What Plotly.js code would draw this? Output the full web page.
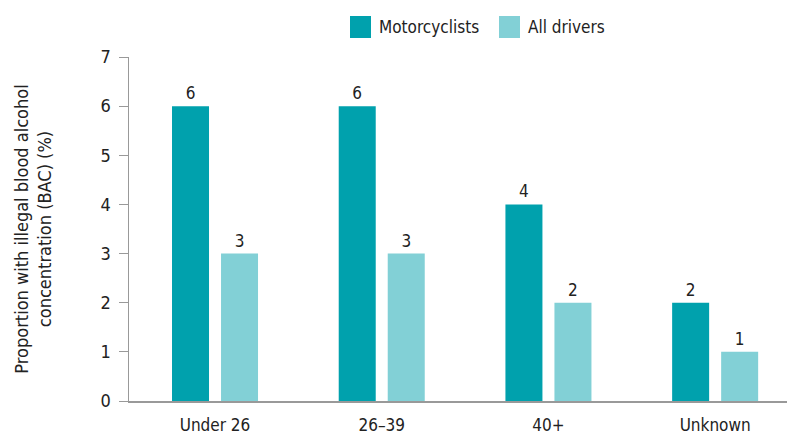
<!DOCTYPE html>
<html>
<head>
<meta charset="utf-8">
<script src="https://cdn.plot.ly/plotly-3.0.1.min.js"></script>
<style>html,body{margin:0;padding:0;background:#fff}#chart{width:787px;height:434px}</style>
</head>
<body>
<div id="chart"></div>
<script>
const categories = ["Under 26", "26–39", "40+", "Unknown"];
const motorcyclists = [6, 6, 4, 2];
const allDrivers = [3, 3, 2, 1];
const seriesNames = ["Motorcyclists", "All drivers"];
const colors = ["#00A1AD", "#82D0D6"];
const yTicks = [0, 1, 2, 3, 4, 5, 6, 7];

const FONT = "'Liberation Sans Narrow', 'DejaVu Sans Condensed', 'Liberation Sans', sans-serif";

const traces = [motorcyclists, allDrivers].map((vals, i) => ({
  type: "bar",
  x: categories,
  y: vals,
  name: seriesNames[i],
  marker: {color: colors[i]},
  text: vals.map(String),
  textposition: "outside",
  textfont: {family: FONT, size: 17, color: "#222"},
  cliponaxis: false,
  showlegend: false,
  hoverinfo: "none"
}));

const L = 129, R = 787, T = 57, B = 401;
const px2x = p => (p - L) / (R - L);
const px2y = p => (B - p) / (B - T);

const shapes = [], annotations = [];
const legendPos = [{sx: 350, tx: 377}, {sx: 499, tx: 526}];
seriesNames.forEach((n, i) => {
  shapes.push({type: "rect", xref: "paper", yref: "paper",
    x0: px2x(legendPos[i].sx), x1: px2x(legendPos[i].sx + 21),
    y0: px2y(38), y1: px2y(16), fillcolor: colors[i], line: {width: 0}});
  annotations.push({xref: "paper", yref: "paper", x: px2x(legendPos[i].tx), y: px2y(27),
    xanchor: "left", yanchor: "middle", showarrow: false, text: n,
    font: {family: FONT, size: 17, color: "#222"}});
});

const layout = {
  width: 787, height: 434,
  margin: {l: L, r: 787 - R, t: T, b: 434 - B, pad: 0},
  paper_bgcolor: "#fff", plot_bgcolor: "#fff",
  font: {family: FONT, size: 17, color: "#222"},
  barmode: "group",
  bargap: 0.412,
  bargroupgap: 0.245,
  showlegend: false,
  xaxis: {
    range: [-0.516, 3.431],
    showline: true, linecolor: "#999", linewidth: 2,
    ticks: "", showgrid: false, zeroline: false,
    ticklabelstandoff: 8,
    tickfont: {family: FONT, size: 17, color: "#222"},
    fixedrange: true
  },
  yaxis: {
    range: [0, 7],
    tickvals: yTicks,
    showline: true, linecolor: "#999", linewidth: 1.5,
    ticks: "outside", ticklen: 9, tickcolor: "#999", tickwidth: 1,
    ticklabelstandoff: 4,
    showgrid: false, zeroline: false,
    tickfont: {family: FONT, size: 18, color: "#222"},
    title: {text: "Proportion with illegal blood alcohol<br>concentration (BAC) (%)",
      font: {family: FONT, size: 18, color: "#222"}, standoff: 44},
    automargin: false,
    fixedrange: true
  },
  shapes: shapes,
  annotations: annotations
};

Plotly.newPlot("chart", traces, layout, {displayModeBar: false, staticPlot: true});
</script>
</body>
</html>
